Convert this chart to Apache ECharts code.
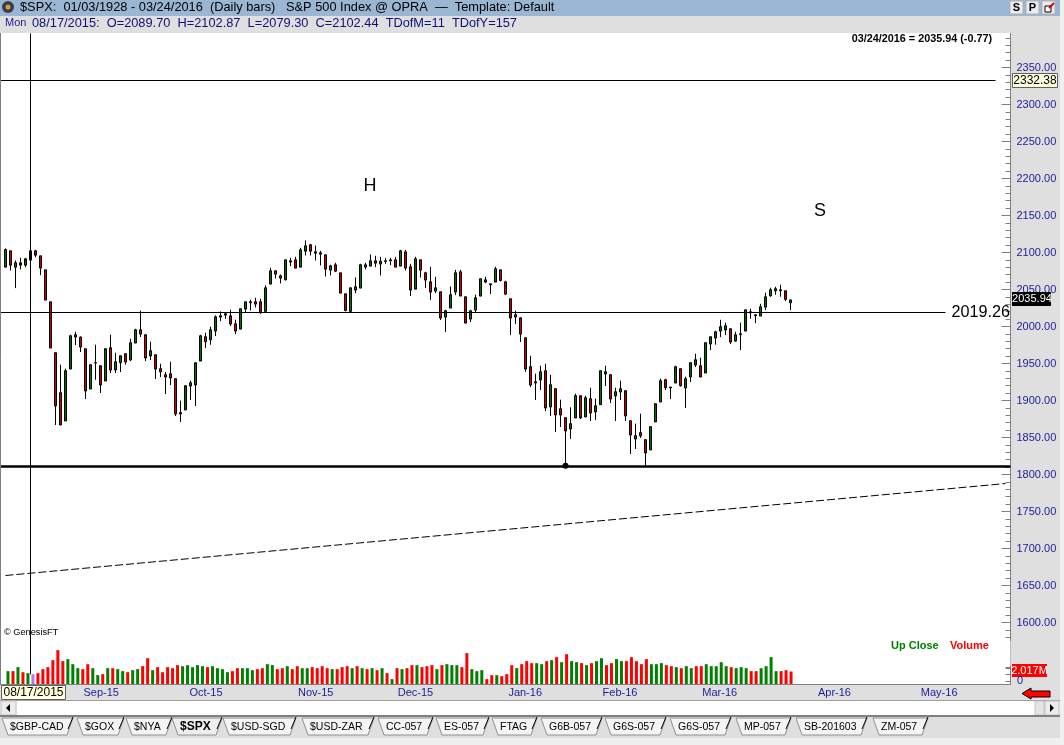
<!DOCTYPE html>
<html>
<head>
<meta charset="utf-8">
<title>$SPX Daily bars</title>
<style>
html,body{margin:0;padding:0;background:#dfdfdf;}
#chart{width:1064px;height:745px;}
</style>
<script src="https://cdn.jsdelivr.net/npm/echarts@6/dist/echarts.min.js"></script>
</head>
<body>
<div id="chart"></div>
<script>
// daily bars, 08/10/2015 - 03/24/2016
const opens=[
2080.2,2102.3,2080.2,2086.1,2082.9,2089.7,2102.3,2095.5,2076.6,2033.4,
1964.6,1910.6,1872.3,1942.5,1985.7,1985.7,1970.0,1915.5,1950.6,1947.0,
1926.3,1971.3,1941.2,1951.1,1963.2,1954.7,1977.6,1995.6,1988.9,1960.1,
1961.9,1943.0,1934.9,1936.2,1929.5,1881.8,1887.2,1919.6,1920.9,1953.3,
1986.2,1982.1,1993.8,2012.7,2015.4,2014.5,2003.7,1996.5,2023.5,2032.1,
2033.4,2033.4,2020.4,2057.3,2075.3,2068.5,2063.1,2087.0,2090.1,2080.2,
2101.8,2110.4,2099.1,2099.6,2096.9,2076.2,2083.4,2072.6,2044.2,2020.4,
2053.7,2051.9,2080.2,2081.6,2088.8,2084.3,2087.9,2088.8,2090.1,2081.6,
2100.9,2080.7,2050.5,2090.1,2072.6,2060.4,2047.8,2046.9,2012.7,2024.9,
2046.5,2073.9,2040.2,2010.0,2022.2,2041.1,2063.1,2057.7,2060.0,2076.6,
2060.4,2037.5,2012.7,2011.8,1984.8,1945.7,1923.6,1927.7,1940.3,1891.2,
1916.0,1889.0,1876.8,1861.5,1876.4,1906.5,1877.7,1902.5,1884.5,1894.4,
1935.8,1934.9,1906.1,1911.5,1913.3,1872.8,1848.0,1856.6,1847.1,1833.2,
1871.0,1898.0,1928.1,1918.2,1923.6,1943.0,1916.9,1931.7,1947.9,1947.0,
1937.1,1976.3,1984.4,1993.8,1995.2,1997.0,1980.3,1988.9,1993.8,2018.6,
2014.5,2014.1,2026.2,2041.5,2048.3,2049.6,2048.3,2032.0];
const closes=[
2104.1,2082.9,2086.1,2082.9,2091.5,2102.44,2096.4,2078.9,2035.7,1970.9,
1892.6,1866.9,1940.3,1987.5,1988.9,1972.2,1912.8,1948.4,1951.1,1920.9,
1970.0,1941.2,1952.4,1960.5,1952.0,1978.1,1995.6,1989.8,1957.4,1967.3,
1942.5,1938.5,1931.7,1930.4,1881.8,1883.6,1920.0,1924.1,1951.1,1987.5,
1979.4,1995.6,2013.2,2014.5,2017.2,2003.3,1993.8,2024.0,2033.4,2033.4,
2030.3,2018.6,2052.3,2075.3,2070.8,2065.4,2090.1,2088.8,2078.9,2103.6,
2109.0,2101.8,2100.9,2097.8,2077.5,2082.0,2074.8,2045.1,2021.7,2052.3,
2049.2,2083.4,2083.4,2088.8,2085.6,2088.3,2088.8,2090.1,2080.2,2102.3,
2078.9,2049.2,2091.5,2076.2,2062.7,2046.5,2052.3,2011.4,2021.3,2042.9,
2072.6,2041.1,2004.6,2021.3,2038.8,2064.5,2060.0,2056.4,2078.0,2062.2,
2043.8,2011.4,2015.9,1989.8,1942.5,1920.9,1925.4,1938.9,1889.9,1921.4,
1880.4,1880.4,1858.8,1868.7,1906.5,1876.4,1903.8,1883.1,1893.0,1940.3,
1938.9,1902.0,1911.9,1916.0,1879.1,1853.4,1852.5,1852.1,1829.1,1864.7,
1895.7,1926.8,1917.3,1916.9,1945.7,1920.0,1929.5,1951.1,1955.1,1931.7,
1978.1,1986.2,1992.9,1999.7,2001.0,1979.0,1988.9,1990.2,2022.6,2019.9,
2015.9,2026.7,2040.2,2049.6,2051.0,2048.3,2036.7,2035.94];
const lows=[
2080.2,2075.7,2051.9,2077.1,2080.2,2079.3,2093.7,2069.4,2035.7,1970.9,
1866.9,1866.9,1872.3,1942.5,1974.9,1965.5,1902.0,1915.5,1928.1,1910.1,
1926.3,1937.1,1937.1,1938.5,1948.4,1953.3,1977.6,1985.7,1953.3,1954.7,
1929.0,1931.7,1908.8,1920.9,1879.1,1871.0,1887.2,1900.7,1892.6,1953.3,
1970.9,1975.4,1987.1,2007.3,2010.5,2000.6,1989.8,1996.5,2018.6,2021.7,
2025.8,2017.2,2020.4,2057.3,2064.9,2058.2,2062.2,2081.6,2078.9,2080.2,
2096.0,2096.0,2089.2,2082.5,2067.6,2069.0,2073.5,2045.1,2020.4,2019.0,
2045.1,2051.9,2077.1,2081.6,2080.2,2069.0,2084.7,2082.9,2080.2,2081.6,
2075.7,2041.1,2050.5,2066.3,2051.9,2035.7,2045.1,2008.7,1992.5,2024.9,
2042.4,2041.1,2004.6,2006.0,2019.5,2041.1,2058.6,2043.8,2060.0,2060.9,
2042.4,1988.4,2003.3,1979.0,1938.5,1918.2,1900.7,1914.2,1885.8,1879.1,
1857.5,1864.2,1811.6,1848.0,1876.4,1875.0,1877.7,1872.3,1873.7,1894.4,
1919.6,1896.6,1872.3,1900.7,1872.3,1827.8,1834.5,1849.4,1811.6,1833.2,
1871.0,1898.0,1914.2,1902.0,1923.6,1918.7,1889.9,1925.0,1945.2,1931.7,
1937.1,1968.2,1975.4,1985.7,1988.4,1976.3,1979.4,1968.2,1993.8,2010.5,
2004.6,2014.1,2022.2,2040.2,2042.9,2040.2,2034.3,2022.2];
const highs=[
2105.4,2102.3,2089.2,2092.8,2092.8,2102.87,2103.6,2095.5,2076.6,2033.4,
1964.6,1948.4,1943.0,1988.9,1992.9,1986.6,1970.0,1948.4,1975.4,1947.0,
1970.0,1988.9,1964.6,1960.5,1963.2,1983.5,1997.0,2021.3,1988.9,1979.4,
1961.9,1949.7,1938.5,1952.4,1929.5,1899.8,1920.0,1926.8,1951.1,1988.9,
1991.6,1999.7,2015.0,2020.4,2018.1,2022.6,2009.1,2024.0,2033.4,2036.1,
2038.8,2037.5,2055.5,2079.3,2075.3,2070.3,2090.1,2092.8,2094.2,2106.3,
2116.2,2111.7,2109.5,2102.3,2096.9,2083.4,2086.1,2072.6,2044.2,2052.3,
2066.3,2084.7,2086.1,2097.3,2095.5,2094.2,2092.8,2092.8,2094.2,2103.6,
2103.6,2084.7,2094.2,2090.1,2073.9,2080.7,2067.2,2046.9,2022.6,2054.1,
2076.6,2076.6,2040.2,2022.6,2042.9,2064.5,2067.2,2057.7,2080.7,2076.6,
2061.8,2037.5,2021.3,2011.8,1984.8,1960.5,1936.2,1947.0,1949.7,1934.9,
1916.0,1901.1,1876.8,1890.8,1909.2,1906.5,1906.5,1917.3,1902.5,1940.3,
1947.0,1934.9,1917.3,1926.8,1913.3,1872.8,1868.7,1882.2,1847.1,1864.7,
1895.7,1929.5,1929.5,1918.2,1947.0,1943.0,1932.2,1951.1,1963.2,1957.8,
1978.1,1986.2,1994.3,2009.1,2005.1,1997.0,1992.9,2005.1,2022.6,2024.0,
2015.9,2030.7,2045.6,2052.3,2053.7,2056.4,2048.3,2036.1];
// millions of shares
const volumes=[
2.07,2.07,2.69,1.91,1.76,1.60,1.76,2.38,2.69,3.77,
5.33,3.62,3.93,3.15,2.53,2.38,3.15,2.53,1.45,1.60,
2.53,2.53,2.38,2.07,1.91,2.22,2.38,2.84,4.08,2.22,
2.69,1.91,2.69,2.53,3.00,2.84,3.00,2.69,3.00,2.84,
2.69,2.84,2.53,2.38,1.91,2.07,2.53,2.53,2.53,2.22,
2.38,2.53,3.15,3.00,2.38,2.53,2.84,2.38,2.84,2.53,
2.53,2.69,2.53,2.84,2.53,2.38,2.38,2.69,2.84,2.53,
2.84,2.53,2.38,2.53,2.22,2.53,1.76,0.83,2.53,2.38,
2.53,3.00,3.00,2.69,2.84,3.00,2.38,3.00,3.15,3.00,
3.00,2.69,4.86,2.38,2.07,2.22,0.83,1.45,1.45,1.29,
1.60,3.00,2.53,3.15,3.62,3.31,3.31,3.15,3.62,3.77,
4.24,3.46,4.70,3.62,3.46,3.31,3.00,3.31,3.62,4.08,
3.00,3.31,3.93,3.62,3.62,4.24,3.62,3.15,3.93,3.15,
3.15,3.31,3.00,2.84,2.69,2.53,2.84,2.53,2.84,2.84,
3.15,2.84,2.84,3.46,2.84,2.69,2.53,2.69,2.53,2.07,
2.07,2.53,2.84,4.24,2.07,2.07,2.22,2.017];
// g = up close, r = down close, p = bar under the crosshair
const volumeKeys=(
"grgrgprrrr"+"rrgggrrggr"+"grggrggrrg"+"rrrrrggggg"+"rggggrrggg"+"rrg"+
"grrgrrggrr"+"rrgrrrgrgr"+"grgrgrgrrg"+"rrrgrgggrr"+"gggrrgrrrg"+"rrr"+
"ggrgrgrggr"+"grggrrggrr"+"rrrgggrrgr"+"ggrrgggggr"+"ggg"+"rrgggg"+"rrr"
).split("");
const hiddenPad=1; // one empty slot so lines can start at the left edge
const monthTickSlots=[20,41,63,83,105,124,144,167,188];
const monthTickLabels=["Sep-15","Oct-15","Nov-15","Dec-15","Jan-16","Feb-16","Mar-16","Apr-16","May-16"];
const tabNames=["$GBP-CAD","$GOX","$NYA","$SPX","$USD-SGD","$USD-ZAR","CC-057","ES-057","FTAG","G6B-057","G6S-057","G6S-057","MP-057","SB-201603","ZM-057"];
const tabStarts=[10,85,134,180,231,310,386,444,500,549,613,678,744,804,881];
const tabEnds=[63,114,162,212,286,364,423,479,527,592,656,721,781,857,918];
const holidays=["2015-09-07","2015-11-26","2015-12-25","2016-01-01","2016-01-18","2016-02-15","2016-03-25"];

const FONT="'Liberation Sans',Arial,sans-serif";
const NAVY="#1c1c96";
const CATEGORY_COUNT=203;

function buildCategories(){
    let list=[""];
    let d=new Date(Date.UTC(2015,7,10));
    while(list.length<CATEGORY_COUNT){
        let s=d.toISOString().slice(0,10);
        let wd=d.getUTCDay();
        if(wd!==0&&wd!==6&&holidays.indexOf(s)<0){
            list.push(s);
        }
        d=new Date(d.getTime()+86400000);
    }
    return list;
}
const categories=buildCategories();
const candleData=opens.map((o,i)=>[i+hiddenPad,o,closes[i],lows[i],highs[i]]);
const volumeData=volumes.map((v,i)=>{
    let key=volumeKeys[i];
    let color=key==="g"?"#008000":(key==="r"?"#ff0000":"#c070e0");
    return {value:[i+hiddenPad,v],itemStyle:{color:color}};
});

const chromeRect=(x,y,w,h,fill,z,stroke)=>({
    type:"rect",shape:{x:x,y:y,width:w,height:h},z:z,silent:true,
    style:{fill:fill,stroke:stroke||null,lineWidth:stroke?1:0}
});
const chromeText=(x,y,text,font,fill,z,align)=>({
    type:"text",z:z,silent:true,
    style:{x:x,y:y,text:text,font:font,fill:fill,align:align||"left",verticalAlign:"middle"}
});
const chromeLine=(x1,y1,x2,y2,stroke,w,z)=>({
    type:"line",z:z,silent:true,shape:{x1:x1,y1:y1,x2:x2,y2:y2},style:{stroke:stroke,lineWidth:w}
});

function buildChrome(){
    let els=[];
    // plot paper, under everything
    els.push(chromeRect(1,33,1010,651,"#ffffff",-10));
    els.push(chromeLine(0.5,33,0.5,684,"#808080",1,20));
    // header
    els.push(chromeRect(0,0,1064,33,"#dfdfdf",50));
    els.push(chromeRect(0,0,1064,16,"#9ab6d3",51));
    els.push({type:"circle",z:52,silent:true,shape:{cx:8,cy:7,r:6},style:{fill:"#3a3a50"}});
    els.push({type:"circle",z:53,silent:true,shape:{cx:8,cy:7,r:2.5},style:{fill:"#d8a030"}});
    els.push(chromeText(20,7,"$SPX:  01/03/1928 - 03/24/2016  (Daily bars)   S&P 500 Index @ OPRA  \u2014  Template: Default","12.8px "+FONT,"#000000",52));
    els.push(chromeText(5,23,"Mon","11px "+FONT,NAVY,52));
    els.push(chromeText(32,23,"08/17/2015:  O=2089.70  H=2102.87  L=2079.30  C=2102.44  TDofM=11  TDofY=157","12.8px "+FONT,"#10107a",52));
    // S P and pop-out buttons
    els.push(chromeRect(1010,1,13,13,"#ececec",52,"#b0b0b0"));
    els.push(chromeText(1016.5,8,"S","bold 11px "+FONT,"#000000",53,"center"));
    els.push(chromeRect(1026,1,13,13,"#ececec",52,"#b0b0b0"));
    els.push(chromeText(1032.5,8,"P","bold 11px "+FONT,"#000000",53,"center"));
    els.push(chromeRect(1042,1,13,13,"#ececec",52,"#b0b0b0"));
    els.push(chromeRect(1045,6,6,6,"#ffffff",53,"#000000"));
    els.push(chromeLine(1049,8,1054,3,"#e00000",2,54));
    els.push(chromeRect(1060,0,4,745,"#f0f0f0",60));

    // texts on the plot
    els.push(chromeText(992,39,"03/24/2016 = 2035.94 (-0.77)","bold 10.8px "+FONT,"#000000",40,"right"));
    els.push(chromeText(370,186,"H","18px "+FONT,"#000000",40,"center"));
    els.push(chromeText(820,211,"S","18px "+FONT,"#000000",40,"center"));
    els.push(chromeText(1010,313,"2019.26","16.2px "+FONT,"#000000",40,"right"));
    els.push(chromeText(4,632,"\u00a9 GenesisFT","9.2px "+FONT,"#000000",40));
    els.push(chromeText(891,646,"Up Close","bold 11px "+FONT,"#008000",40));
    els.push(chromeText(950,646,"Volume","bold 11px "+FONT,"#ff0000",40));
    // no price ticks behind the volume pane
    els.push(chromeRect(1000,641,10.5,25,"#ffffff",30));

    // price flags on the axis
    els.push(chromeRect(1012.5,73.5,45,14,"#ffffe0",40,"#606060"));
    els.push(chromeText(1035,81,"2332.38","12px "+FONT,"#000000",41,"center"));
    els.push(chromeRect(1012,292,39,14,"#000000",40));
    els.push(chromeText(1032,299,"2035.94","11px "+FONT,"#ffffff",41,"center"));
    els.push(chromeRect(1012,664,35,13,"#ff0000",40));
    els.push(chromeText(1029.5,671,"2.017M","11px "+FONT,"#ffffff",41,"center"));
    els.push(chromeText(1020,681,"0","11px "+FONT,NAVY,41,"center"));

    // date strip
    els.push(chromeRect(0,684,1060,16,"#dfdfdf",50));
    els.push(chromeLine(0,684.5,1011,684.5,"#808080",1,51));
    els.push(chromeRect(1.5,685.5,64,14,"#ffffe0",52,"#606060"));
    els.push(chromeText(33.5,693,"08/17/2015","12px "+FONT,"#000000",53,"center"));
    els.push({type:"polygon",z:52,silent:true,
        shape:{points:[[1022,693.5],[1031,688],[1031,691],[1050,691],[1050,697],[1031,697],[1031,699]]},
        style:{fill:"#ff0000",stroke:"#000000",lineWidth:1}});

    // scroll bar
    els.push(chromeRect(0,700,1060,17,"#f4f4f4",50));
    els.push(chromeLine(0,700.5,1060,700.5,"#a0a0a0",1,51));
    els.push(chromeRect(17,701,1018,14,"#ffffff",51));
    els.push(chromeRect(1035,701,9,14,"#e4e4e4",52,"#c0c0c0"));
    els.push(chromeRect(1,701,15,14,"#ececec",52,"#c0c0c0"));
    els.push(chromeRect(1045,701,14,14,"#ececec",52,"#c0c0c0"));
    els.push({type:"polygon",z:53,silent:true,shape:{points:[[6,708],[10,704],[10,712]]},style:{fill:"#000000"}});
    els.push({type:"polygon",z:53,silent:true,shape:{points:[[1054,708],[1050,704],[1050,712]]},style:{fill:"#000000"}});
    els.push(chromeRect(0,715,1060,2,"#808080",52));

    // sheet tabs
    els.push(chromeRect(0,717,1060,21,"#dfdfdf",50));
    els.push(chromeRect(0,738,1064,7,"#f0f0f0",50));
    tabNames.forEach((name,i)=>{
        let l=tabStarts[i],r=tabEnds[i];
        let active=name==="$SPX";
        els.push({type:"polygon",z:active?53:51,silent:true,
            shape:{points:[[l-8,718],[r+10,718],[r+4,735],[l-2,735]]},
            style:{fill:active?"#eeeeee":"#f4f4f4",stroke:"#909090",lineWidth:1}});
        els.push(chromeLine(r+10,717,r+5,729,"#000000",1,active?54:52));
        els.push(chromeText(l,727,name,active?"bold 12px "+FONT:"10.5px "+FONT,"#000000",55));
    });
    return els;
}

const option={
    animation:false,
    backgroundColor:"#dfdfdf",
    textStyle:{fontFamily:FONT},
    graphic:{elements:buildChrome()},
    grid:[
        {left:0.5,top:30.5,width:1010,height:666,show:false},
        {left:0.5,top:620,width:1010,height:64.5,show:false}
    ],
    xAxis:[
        {gridIndex:0,type:"category",data:categories,boundaryGap:false,
            axisLine:{show:false},axisTick:{show:false},axisLabel:{show:false},splitLine:{show:false}},
        {gridIndex:1,type:"category",data:categories,boundaryGap:false,z:55,
            axisLine:{show:false},axisTick:{show:false},splitLine:{show:false},
            axisLabel:{
                interval:0,margin:3,color:NAVY,fontSize:11,fontFamily:FONT,hideOverlap:false,
                padding:[0,3,0,0],
                formatter:(value,index)=>{
                    let at=monthTickSlots.indexOf(index);
                    return at<0?"":monthTickLabels[at];
                }
            }}
    ],
    yAxis:[
        {gridIndex:0,type:"value",position:"right",min:1500,max:2400,interval:50,
            splitLine:{show:false},
            axisLine:{show:true,lineStyle:{color:"#808080"}},
            axisTick:{show:true,inside:true,length:9,lineStyle:{color:"#808080"}},
            minorTick:{show:true,splitNumber:5,length:5,lineStyle:{color:"#808080"}},
            minorSplitLine:{show:false},
            axisLabel:{
                margin:6,color:NAVY,fontSize:11,fontFamily:FONT,
                formatter:v=>(v<1600||v>2350)?"":v.toFixed(2)
            }},
        {gridIndex:1,type:"value",position:"right",min:0,max:10,
            splitLine:{show:false},axisLine:{show:false},axisLabel:{show:false},
            axisTick:{show:true,inside:true,length:5,customValues:[2.5],lineStyle:{color:"#808080"}}}
    ],
    series:[
        {
            type:"bar",xAxisIndex:1,yAxisIndex:1,barWidth:3,data:volumeData,silent:true,z:2
        },
        {
            type:"candlestick",xAxisIndex:0,yAxisIndex:0,barWidth:3,data:candleData,silent:true,z:3,
            encode:{x:0,y:[1,2,3,4]},
            itemStyle:{color:"#007000",color0:"#d00000",borderColor:"#000000",borderColor0:"#000000",borderColorDoji:"#000000",borderWidth:1},
            markPoint:{
                silent:true,symbol:"circle",symbolSize:6,label:{show:false},
                itemStyle:{color:"#000000"},
                data:[{coord:[113,1811.8]}]
            },
            markLine:{
                silent:true,symbol:"none",label:{show:false},animation:false,
                lineStyle:{color:"#000000",width:1,type:"solid"},
                data:[
                    [{coord:[0,2332.38]},{coord:[199,2332.38]}],
                    [{coord:[0,2019.26]},{coord:[189,2019.26]}],
                    [{coord:[0,1811.8],lineStyle:{color:"#000000",width:2.5,type:"solid"}},{coord:[202,1811.8]}],
                    [{coord:[1,1663.5],lineStyle:{color:"#000000",width:1,type:[8,3]}},{coord:[201,1787.8]}],
                    [{coord:[6,2396]},{coord:[6,1530]}]
                ]
            }
        }
    ]
};
const chart=echarts.init(document.getElementById("chart"),null,{renderer:"canvas"});
chart.setOption(option);
</script>
</body>
</html>
